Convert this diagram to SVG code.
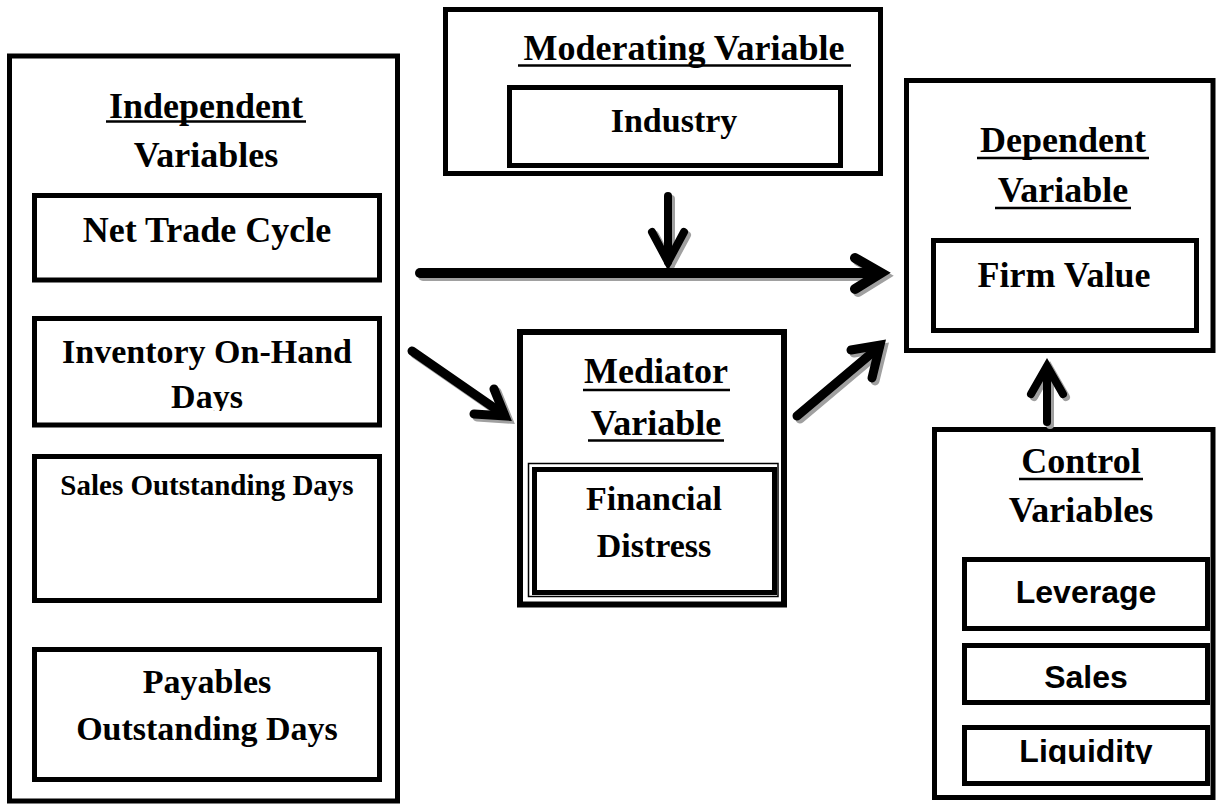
<svg xmlns="http://www.w3.org/2000/svg" xmlns:xlink="http://www.w3.org/1999/xlink" width="1220" height="806" viewBox="0 0 1220 806">
<style>
.box{fill:#fff;stroke:#000;stroke-width:5}
.thin{fill:none;stroke:#000;stroke-width:1.5}
.t{font-family:"Liberation Serif","Times New Roman",serif;font-weight:bold;font-size:36px;fill:#000;text-anchor:middle}
.s{font-family:"Liberation Sans",Arial,sans-serif;font-weight:bold;font-size:32px;fill:#000;text-anchor:middle}
.ul{stroke:#000;stroke-width:2.6}
.arr{fill:none;stroke-linecap:round;stroke-linejoin:miter}
</style>
<defs>
<clipPath id="clipInv"><rect x="37" y="321" width="340" height="90"/></clipPath>
<clipPath id="clipLiq"><rect x="967" y="730" width="238" height="34"/></clipPath>
<g id="a-h"><path d="M420 273 H879"/><path d="M855 258 L881 273 L855 289"/></g>
<g id="a-d"><path d="M668 196 V262"/><path d="M652 232 L668 262 L684 232"/></g>
<g id="a-u"><path d="M1047 422 V368"/><path d="M1031 394 L1047 366 L1063 394"/></g>
<g id="a-d1"><path d="M412 351 L503 414"/><path d="M474 414 L505 416 L494 389"/></g>
<g id="a-d2"><path d="M797 416 L879 347"/><path d="M851 350 L880 345 L872 378"/></g>
</defs>

<g id="independent">
<rect class="box" x="9.5" y="56" width="388" height="745"/>
<text class="t" x="206" y="118">Independent</text>
<line class="ul" x1="106" y1="121.5" x2="306" y2="121.5"/>
<text class="t" x="206" y="167">Variables</text>
</g>
<g id="net-trade-cycle">
<rect class="box" x="34.5" y="195.5" width="345" height="84.5"/>
<text class="t" x="207" y="242">Net Trade Cycle</text>
</g>
<g id="inventory">
<rect class="box" x="34.5" y="318.5" width="345" height="106.5"/>
<g clip-path="url(#clipInv)">
<text class="t" x="207" y="363" style="font-size:34px">Inventory On-Hand</text>
<text class="t" x="207" y="408" style="font-size:34px">Days</text>
</g>
</g>
<g id="sales-outstanding">
<rect class="box" x="34.5" y="456.5" width="345" height="144"/>
<text class="t" x="207" y="495" style="font-size:29px">Sales Outstanding Days</text>
</g>
<g id="payables">
<rect class="box" x="34.5" y="649.5" width="345" height="130"/>
<text class="t" x="207" y="693" style="font-size:34px">Payables</text>
<text class="t" x="207" y="740" style="font-size:34px">Outstanding Days</text>
</g>

<g id="moderating">
<rect class="box" x="445.5" y="9.5" width="435" height="164"/>
<text class="t" x="684" y="60">Moderating Variable</text>
<line class="ul" x1="518" y1="65.5" x2="851" y2="65.5"/>
</g>
<g id="industry">
<rect class="box" x="509.5" y="87.5" width="331" height="78"/>
<text class="t" x="674" y="132" style="font-size:34px">Industry</text>
</g>

<g id="mediator">
<rect class="box" x="520" y="332" width="264" height="272.5" style="stroke-width:6"/>
<text class="t" x="656" y="383">Mediator</text>
<line class="ul" x1="583" y1="390" x2="730" y2="390"/>
<text class="t" x="656" y="435">Variable</text>
<line class="ul" x1="588" y1="440.5" x2="724" y2="440.5"/>
</g>
<g id="financial-distress">
<rect class="thin" x="528.5" y="463.5" width="249.5" height="133"/>
<rect class="box" x="534.5" y="469.5" width="240" height="123"/>
<text class="t" x="654" y="510" style="font-size:34px">Financial</text>
<text class="t" x="654" y="557" style="font-size:34px">Distress</text>
</g>

<g id="dependent">
<rect class="box" x="906.5" y="80.5" width="306.5" height="270"/>
<text class="t" x="1063" y="152">Dependent</text>
<line class="ul" x1="977" y1="158" x2="1149" y2="158"/>
<text class="t" x="1063" y="202">Variable</text>
<line class="ul" x1="995" y1="208" x2="1131" y2="208"/>
</g>
<g id="firm-value">
<rect class="box" x="933.5" y="240.5" width="263" height="90"/>
<text class="t" x="1064" y="287">Firm Value</text>
</g>

<g id="control">
<rect class="box" x="934.5" y="429.5" width="278.5" height="368"/>
<text class="t" x="1081" y="473">Control</text>
<line class="ul" x1="1019" y1="479" x2="1143" y2="479"/>
<text class="t" x="1081" y="522">Variables</text>
</g>
<g id="leverage">
<rect class="box" x="964.5" y="559.5" width="243" height="69"/>
<text class="s" x="1086" y="603">Leverage</text>
</g>
<g id="sales">
<rect class="box" x="964.5" y="645.5" width="243" height="57"/>
<text class="s" x="1086" y="688">Sales</text>
</g>
<g id="liquidity">
<rect class="box" x="964.5" y="727.5" width="243" height="56"/>
<g clip-path="url(#clipLiq)"><text class="s" x="1086" y="762">Liquidity</text></g>
</g>

<g id="connectors">
<g class="arr" stroke="#a0a0a0" transform="translate(3,3)">
<use xlink:href="#a-h" stroke-width="10"/>
<use xlink:href="#a-d" stroke-width="8"/>
<use xlink:href="#a-u" stroke-width="8"/>
<use xlink:href="#a-d1" stroke-width="9"/>
<use xlink:href="#a-d2" stroke-width="9"/>
</g>
<g class="arr" stroke="#000">
<use xlink:href="#a-h" stroke-width="10"/>
<use xlink:href="#a-d" stroke-width="8"/>
<use xlink:href="#a-u" stroke-width="8"/>
<use xlink:href="#a-d1" stroke-width="9"/>
<use xlink:href="#a-d2" stroke-width="9"/>
</g>
</g>
</svg>
